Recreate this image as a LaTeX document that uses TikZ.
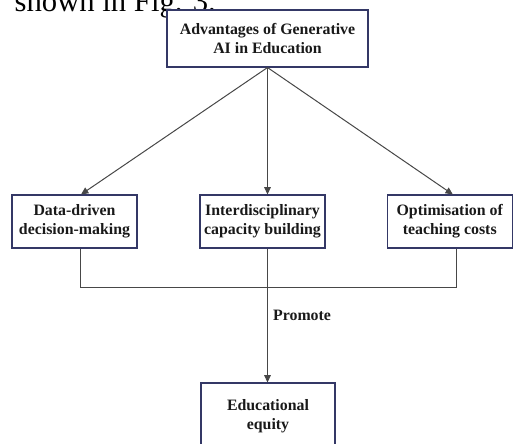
\documentclass[tikz,border=0pt]{standalone}
\usepackage{fontspec}
\setmainfont{Liberation Serif}
\usetikzlibrary{arrows.meta}
\definecolor{boxblue}{RGB}{52,56,102}

\begin{document}
\begin{tikzpicture}[x=0.75pt, y=0.75pt,
  box/.style={draw=boxblue, line width=0.8pt, fill=white, align=center, inner sep=0pt,
    font=\bfseries\fontsize{11.9}{14.25}\selectfont, text=black!90},
  link/.style={draw=black!72, line width=0.75pt},
  arr/.style={link, -{Triangle[length=5.5pt, width=5pt]}}]
  \clip (0, 0) rectangle (513, 443);
  \node[anchor=base west, font=\fontsize{23}{27}\selectfont] (caption) at (10, 431) {shown in Fig. 3.};
  \node[box, minimum width=150.75pt, minimum height=42.75pt] (adv) at (267.5, 404.5) {Advantages of Generative\\AI in Education};
  \node[box, minimum width=93.75pt, minimum height=39.75pt] (data) at (74.5, 221.5) {Data-driven\\decision-making};
  \node[box, minimum width=93.75pt, minimum height=39.75pt] (inter) at (262.5, 221.5) {Interdisciplinary\\capacity building};
  \node[box, minimum width=93.75pt, minimum height=39.75pt] (optim) at (449.75, 221.5) {Optimisation of\\teaching costs};
  \node[box, minimum width=100.5pt, minimum height=49.5pt] (equity) at (268, 27) {Educational\\equity};
  \coordinate (jl) at (80, 156);
  \coordinate (jr) at (456, 156);
  \draw[arr] (adv.south) -- ([xshift=4.9pt]data.north);
  \draw[arr] (adv.south) -- (adv.south |- inter.north);
  \draw[arr] (adv.south) -- ([xshift=2.3pt]optim.north);
  \draw[link] (data.south -| jl) -- (jl) -- (jr) -- (optim.south -| jr);
  \draw[arr] (inter.south -| adv.south) -- (adv.south |- equity.north)
    node[pos=0.5, anchor=west, xshift=0.5pt, font=\bfseries\fontsize{11.9}{14.25}\selectfont, text=black!90] (promote) {Promote};
\end{tikzpicture}
\end{document}
